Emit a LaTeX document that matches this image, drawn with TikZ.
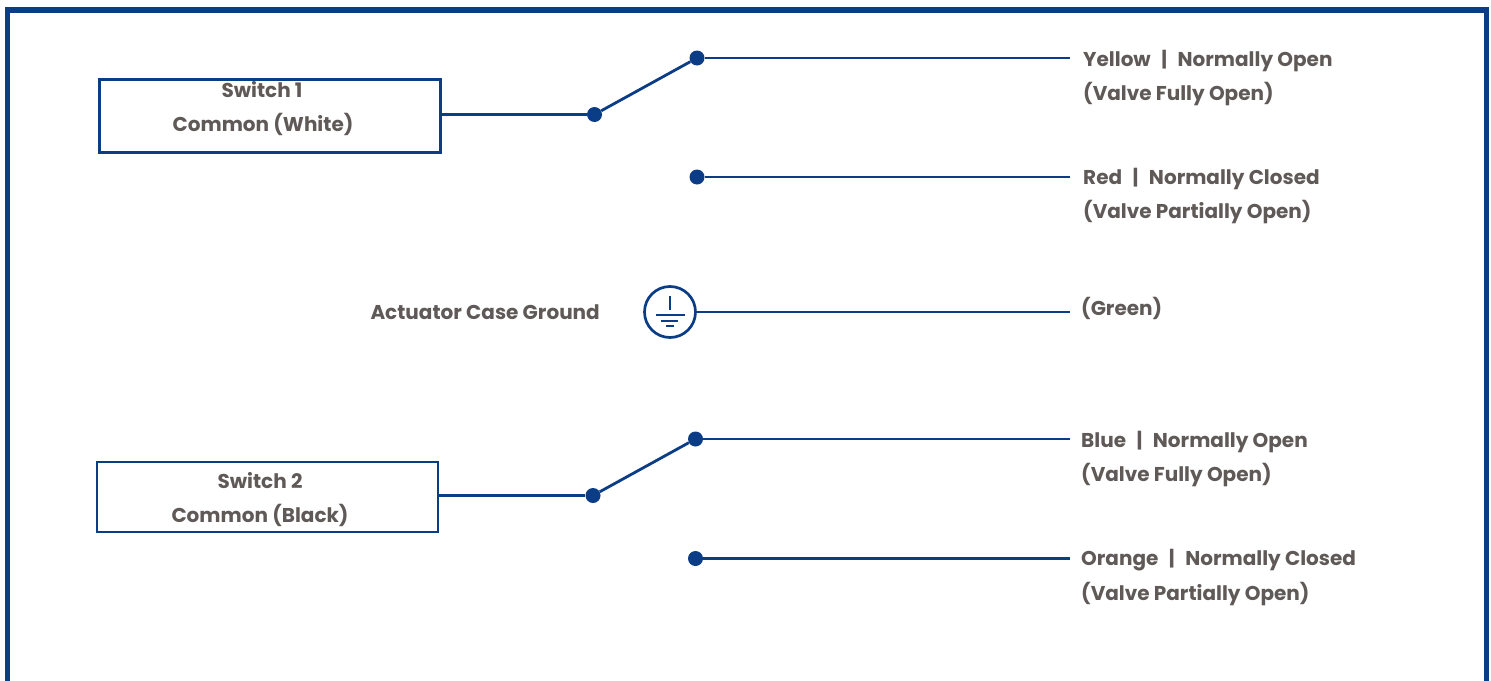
\documentclass[tikz,border=0pt]{standalone}
\usepackage{fontspec}
\setmainfont{Poppins}
\definecolor{navy}{HTML}{0B3D86}
\definecolor{txt}{HTML}{5F5A58}
\newcommand{\barsep}{\hspace{10.5pt}|\hspace{10.5pt}}
\tikzset{x=1pt,y=-1pt,
 wire/.style={navy,line width=2.8pt},
 dot/.style={circle,fill=navy,draw=none,inner sep=0,minimum size=15pt},
 boxs/.style={draw=navy,line width=2.6pt,inner sep=0,fill=white},
 lab/.style={text=txt,inner sep=0,font=\fontsize{20}{20}\selectfont\bfseries,anchor=base west},
 labc/.style={lab,anchor=base},
}
\begin{document}
\begin{tikzpicture}
\useasboundingbox (0,0) rectangle (1491,680);
\fill[white] (0,0) rectangle (1491,680);
\draw[navy,line width=5.5pt] (7.5,700) -- (7.5,9.8) -- (1486.5,9.8) -- (1486.5,700);
% switch 1
\node[boxs,minimum width=341pt,minimum height=73pt] (s1) at (270,116) {};
\node[dot] (c1) at (594.5,114.5) {};
\node[dot] (no1) at (697,58) {};
\node[dot] (nc1) at (697,177) {};
\coordinate (e1) at (1070,58);
\coordinate (e2) at (1070,177);
\draw[wire] (s1.east |- c1) -- (c1);
\draw[wire] (c1) -- (no1);
\draw[wire] (no1) -- (e1);
\draw[wire] (nc1) -- (e2);
\node[labc] (t1a) at (262,97) {Switch 1};
\node[labc] (t1b) at (263,131) {Common (White)};
\node[lab] (y1) at (1083,66) {Yellow\barsep Normally Open};
\node[lab] (y2) at (1083,100) {(Valve Fully Open)};
\node[lab] (r1) at (1083,184) {Red\barsep Normally Closed};
\node[lab] (r2) at (1083,218) {(Valve Partially Open)};
% ground
\node[circle,draw=navy,line width=2.7pt,inner sep=0,minimum size=51pt] (g) at (670,312) {};
\coordinate (e3) at (1070,312);
\draw[wire] (g) -- (e3);
\coordinate (ga) at (670,296);
\coordinate (gb) at (670,310);
\coordinate (gc) at (656,315);
\coordinate (gd) at (685,315);
\coordinate (ge) at (661,321);
\coordinate (gf) at (678,321);
\coordinate (gg) at (666,326);
\coordinate (gh) at (674,326);
\draw[navy,line width=1.8pt] (ga) -- (gb) (gc) -- (gd) (ge) -- (gf) (gg) -- (gh);
\node[lab,anchor=base east] (cg) at (600,319) {Actuator Case Ground};
\node[lab] (gr) at (1081,315) {(Green)};
% switch 2
\node[boxs,minimum width=341pt,minimum height=70pt] (s2) at (267.5,497) {};
\node[dot] (c2) at (593,495.5) {};
\node[dot] (no2) at (695.5,439) {};
\node[dot] (nc2) at (695.5,558.5) {};
\coordinate (e4) at (1070,439);
\coordinate (e5) at (1070,558.5);
\draw[wire] (s2.east |- c2) -- (c2);
\draw[wire] (c2) -- (no2);
\draw[wire] (no2) -- (e4);
\draw[wire] (nc2) -- (e5);
\node[labc] (t2a) at (260,488) {Switch 2};
\node[labc] (t2b) at (260,522) {Common (Black)};
\node[lab] (b1) at (1081,447) {Blue\barsep Normally Open};
\node[lab] (b2) at (1081,481) {(Valve Fully Open)};
\node[lab] (o1) at (1081,565) {Orange\barsep Normally Closed};
\node[lab] (o2) at (1081,600) {(Valve Partially Open)};
\end{tikzpicture}
\end{document}
